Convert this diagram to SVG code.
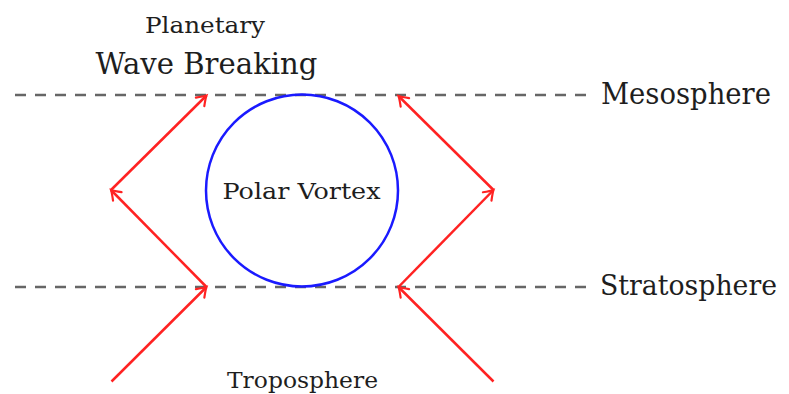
<svg xmlns="http://www.w3.org/2000/svg" width="789" height="394" viewBox="0 0 789 394">
<style>
text{font-family:"DejaVu Serif","Liberation Serif",serif;fill:#1e1e1e}
.dash{stroke:#666;stroke-width:2.4;stroke-dasharray:11 9;fill:none}
.red{stroke:#ff2222;stroke-width:2.5;fill:none;marker-end:url(#ah)}
</style>
<defs>
<marker id="ah" markerUnits="userSpaceOnUse" viewBox="-12 -8 14 16" refX="0" refY="0" markerWidth="14" markerHeight="16" orient="auto" overflow="visible">
<path d="M-9,-6 Q-3,-1.5 0,0 Q-3,1.5 -9,6" fill="none" stroke="#ff2222" stroke-width="2.2" stroke-linecap="round"/>
</marker>
</defs>
<rect width="789" height="394" fill="#fff"/>
<g id="layers">
<line class="dash" x1="15" y1="95" x2="592" y2="95"/>
<line class="dash" x1="15" y1="287" x2="592" y2="287"/>
</g>
<g id="vortex">
<circle cx="302" cy="190.5" r="96" fill="none" stroke="#1a1aff" stroke-width="2.5"/>
<text x="222.5" y="199.3" font-size="23" textLength="158" lengthAdjust="spacingAndGlyphs">Polar Vortex</text>
</g>
<g id="labels">
<text x="145" y="33.3" font-size="23" textLength="120" lengthAdjust="spacingAndGlyphs">Planetary</text>
<text x="95.5" y="74" font-size="29" textLength="222" lengthAdjust="spacingAndGlyphs">Wave Breaking</text>
<text x="601" y="104.3" font-size="29" textLength="170" lengthAdjust="spacingAndGlyphs">Mesosphere</text>
<text x="600" y="295" font-size="28" textLength="177" lengthAdjust="spacingAndGlyphs">Stratosphere</text>
<text x="227" y="388.3" font-size="23" textLength="151" lengthAdjust="spacingAndGlyphs">Troposphere</text>
</g>
<g id="connectors">
<line class="red" x1="111.5" y1="381.5" x2="206.5" y2="287"/>
<line class="red" x1="206.5" y1="287" x2="111" y2="190"/>
<line class="red" x1="111" y1="190" x2="206.5" y2="95.5"/>
<line class="red" x1="493.5" y1="381.5" x2="398.5" y2="287"/>
<line class="red" x1="398.5" y1="287" x2="493.5" y2="190"/>
<line class="red" x1="493.5" y1="190" x2="398.5" y2="96"/>
</g>
</svg>
